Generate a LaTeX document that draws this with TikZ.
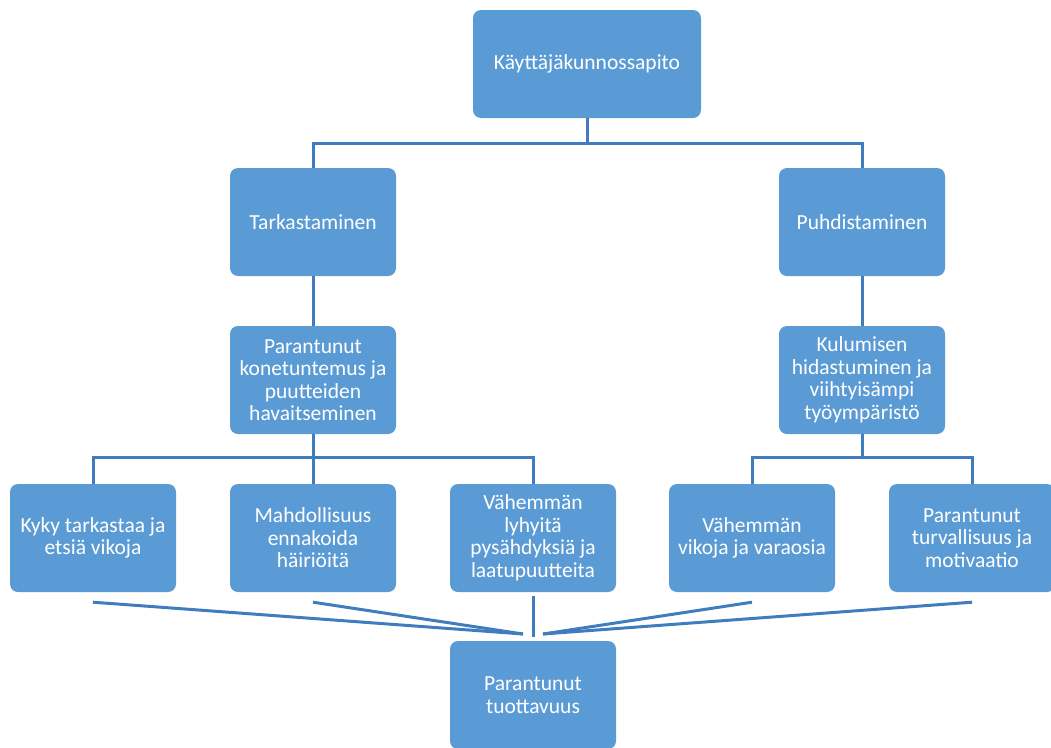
\documentclass[tikz,border=0pt]{standalone}
\usepackage{fontspec}
\setmainfont{Carlito}
\usepackage{xcolor}
\usetikzlibrary{positioning}
\definecolor{boxblue}{HTML}{5B9BD5}
\definecolor{lineblue}{HTML}{3F7DBF}

\begin{document}
\begin{tikzpicture}[x=1pt, y=-1pt,
	box/.style={fill=boxblue, rounded corners=8pt, minimum width=166pt, minimum height=108pt, inner sep=0pt, text=white, align=center, font=\fontsize{21.5}{22.5}\selectfont},
	link/.style={draw=lineblue, line width=3pt}]
	\useasboundingbox (0,0) rectangle (1051,747);
	\node (root) [box, minimum width=228pt] at (587, 64) {Käyttäjäkunnossapito};
	\node (tark) [box] at (313, 222) {Tarkastaminen};
	\node (puhd) [box] at (862, 222) {Puhdistaminen};
	\node (kone) [box] at (313, 380) {Parantunut\\konetuntemus ja\\puutteiden\\havaitseminen};
	\node (kulu) [box] at (862, 380) {Kulumisen\\hidastuminen ja\\viihtyisämpi\\työympäristö};
	\node (kyky) [box] at (93, 538) {Kyky tarkastaa ja\\etsiä vikoja};
	\node (mahd) [box] at (313, 538) {Mahdollisuus\\ennakoida\\häiriöitä};
	\node (lyhy) [box] at (533, 538) {Vähemmän\\lyhyitä\\pysähdyksiä ja\\laatupuutteita};
	\node (viko) [box] at (752, 538) {Vähemmän\\vikoja ja varaosia};
	\node (turv) [box] at (972, 538) {Parantunut\\turvallisuus ja\\motivaatio};
	\node (tuot) [box] at (533, 695) {Parantunut\\tuottavuus};
	% tree connectors
	\draw[link] (root.south) -- ++(0,25) -| (tark.north);
	\draw[link] (root.south) -- ++(0,25) -| (puhd.north);
	\draw[link] (tark) -- (kone);
	\draw[link] (puhd) -- (kulu);
	\draw[link] (kone.south) -- ++(0,23) -| (kyky.north);
	\draw[link] (kone.south) -- ++(0,23) -| (mahd.north);
	\draw[link] (kone.south) -- ++(0,23) -| (lyhy.north);
	\draw[link] (kulu.south) -- ++(0,23) -| (viko.north);
	\draw[link] (kulu.south) -- ++(0,23) -| (turv.north);
	% lines to the result
	\coordinate (inl) at (523, 634);
	\coordinate (inm) at (533, 637);
	\coordinate (inr) at (543, 634);
	\draw[link] ([yshift=-10pt]kyky.south) -- (inl);
	\draw[link] ([yshift=-10pt]mahd.south) -- (inl);
	\draw[link] ([yshift=-4pt]lyhy.south) -- (inm);
	\draw[link] ([yshift=-10pt]viko.south) -- (inr);
	\draw[link] ([yshift=-10pt]turv.south) -- (inr);
\end{tikzpicture}
\end{document}
